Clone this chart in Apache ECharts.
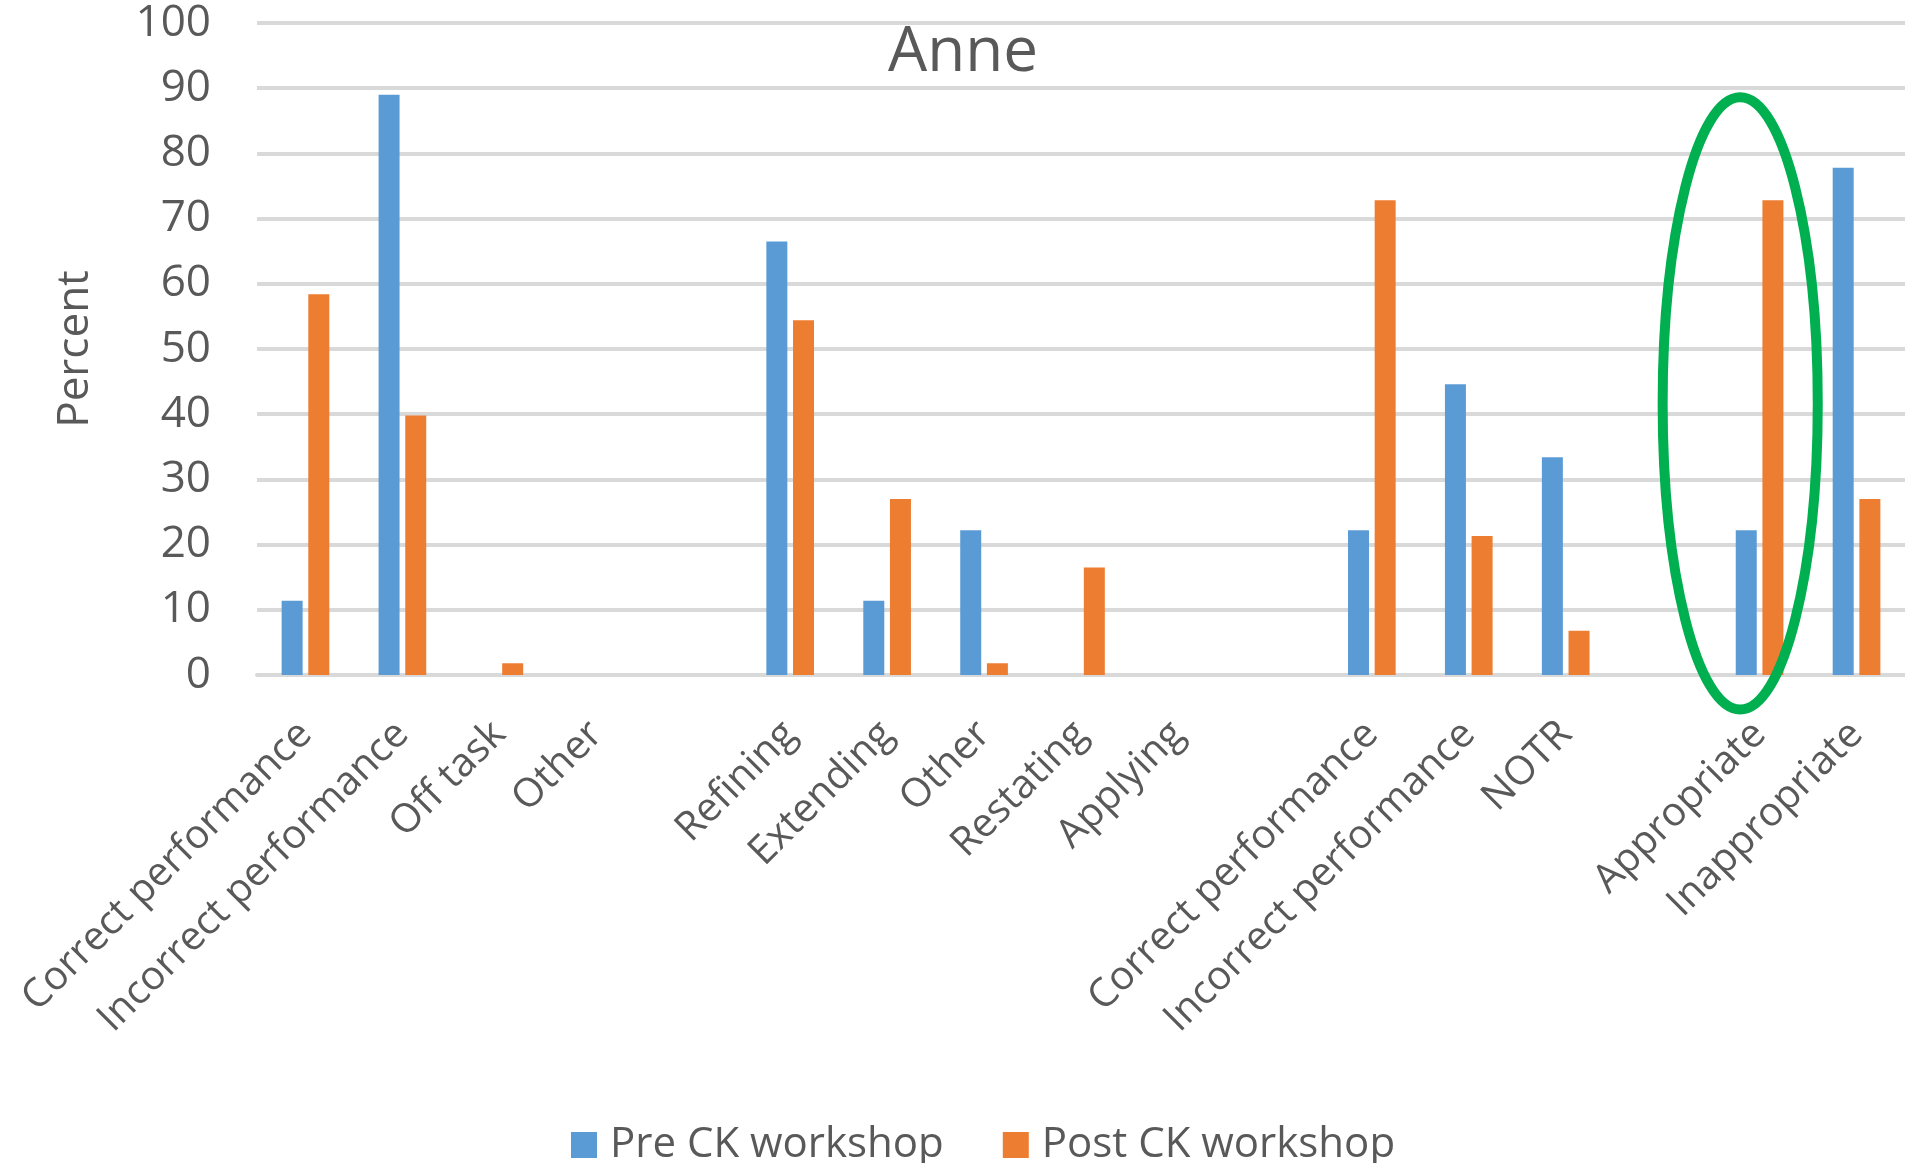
<!DOCTYPE html>
<html>
<head>
<meta charset="utf-8">
<script src="https://cdn.jsdelivr.net/npm/echarts@6/dist/echarts.min.js"></script>
<style>
  html, body { margin: 0; padding: 0; background: #ffffff; }
  #chart { width: 1905px; height: 1163px; }
</style>
</head>
<body>
<div id="chart"></div>
<script>
// Coded teacher moves for Anne, before and after the CK workshop (percent of moves).
// Empty strings are spacer categories separating the four coding groups.
const categories = [
  'Correct performance', 'Incorrect performance', 'Off task', 'Other', '',
  'Refining', 'Extending', 'Other', 'Restating', 'Applying', '',
  'Correct performance', 'Incorrect performance', 'NOTR', '',
  'Appropriate', 'Inappropriate'
];
const preWorkshop = [
  11.4, 89.0, 0, 0, null,
  66.5, 11.4, 22.2, 0, 0, null,
  22.2, 44.6, 33.4, null,
  22.2, 77.8
];
const postWorkshop = [
  58.4, 39.8, 1.8, 0, null,
  54.4, 27.0, 1.8, 16.5, 0, null,
  72.8, 21.3, 6.8, null,
  72.8, 27.0
];
const seriesNames = ['Pre CK workshop', 'Post CK workshop'];
const chartTitle = 'Anne';
const yAxisTitle = 'Percent';
const yMin = 0, yMax = 100, yStep = 10;

// Highlight ring around the "Appropriate" pair (category index, value span, width in categories)
const highlightIndex = 15;
const highlightTop = 88.6;
const highlightBottom = -5.3;
const highlightShift = -0.2;
const highlightHalfWidth = 0.8;

const textColor = '#595959';
const font = 'Open Sans';

const chart = echarts.init(document.getElementById('chart'), null, { renderer: 'canvas' });

chart.setOption({
  animation: false,
  backgroundColor: '#ffffff',
  color: ['#5B9BD5', '#ED7D31'],
  title: {
    text: chartTitle,
    left: 888,
    top: 22,
    padding: 0,
    textStyle: { fontFamily: font, fontSize: 62, fontWeight: 'normal', color: textColor }
  },
  legend: {
    data: seriesNames,
    left: 571,
    top: 1124,
    padding: 0,
    itemWidth: 26,
    itemHeight: 26,
    itemGap: 59,
    icon: 'rect',
    textStyle: { fontFamily: font, fontSize: 42, color: textColor, padding: [0, 0, 0, 8] }
  },
  grid: { left: 257, right: 0, top: 23, bottom: 488, containLabel: false },
  xAxis: {
    type: 'category',
    data: categories,
    axisLine: { show: true, lineStyle: { color: '#D9D9D9', width: 4 } },
    axisTick: { show: false },
    axisLabel: {
      interval: 0,
      rotate: 45,
      margin: 53,
      fontFamily: font,
      fontSize: 40,
      color: textColor
    }
  },
  yAxis: {
    type: 'value',
    min: yMin,
    max: yMax,
    interval: yStep,
    name: yAxisTitle,
    nameLocation: 'middle',
    nameGap: 160,
    nameTextStyle: { fontFamily: font, fontSize: 44, color: textColor },
    axisLine: { show: false },
    axisTick: { show: false },
    axisLabel: { margin: 46, fontFamily: font, fontSize: 44, color: textColor },
    splitLine: { show: true, lineStyle: { color: '#D9D9D9', width: 4 } }
  },
  series: [
    { name: seriesNames[0], type: 'bar', data: preWorkshop, barWidth: 21, barGap: '27%' },
    { name: seriesNames[1], type: 'bar', data: postWorkshop, barWidth: 21, barGap: '27%' }
  ]
});

// Place the highlight ellipse from data coordinates once the axes are laid out
function placeHighlight() {
  const top = chart.convertToPixel({ gridIndex: 0 }, [highlightIndex, highlightTop]);
  const bottom = chart.convertToPixel({ gridIndex: 0 }, [highlightIndex, highlightBottom]);
  const next = chart.convertToPixel({ gridIndex: 0 }, [highlightIndex + 1, highlightTop]);
  const step = next[0] - top[0];
  chart.setOption({
    graphic: [{
      type: 'ellipse',
      z: 100,
      shape: {
        cx: top[0] + highlightShift * step,
        cy: (top[1] + bottom[1]) / 2,
        rx: highlightHalfWidth * step,
        ry: Math.abs(bottom[1] - top[1]) / 2
      },
      style: { fill: 'none', stroke: '#00B050', lineWidth: 10 }
    }]
  });
}
placeHighlight();
</script>
</body>
</html>
